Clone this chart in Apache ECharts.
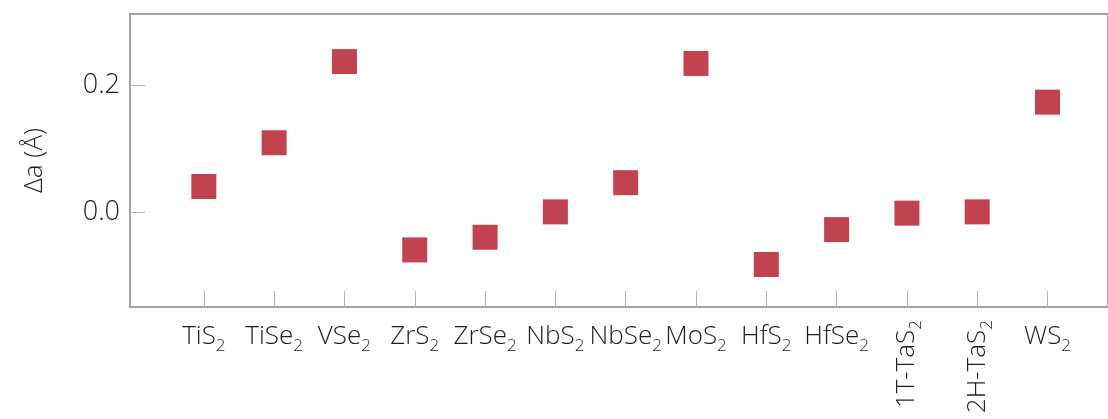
<!DOCTYPE html>
<html>
<head>
<meta charset="utf-8">
<script src="https://cdn.jsdelivr.net/npm/echarts@6/dist/echarts.min.js"></script>
<style>html,body{margin:0;padding:0;background:#fff}#c{width:1108px;height:419px}</style>
</head>
<body>
<div id="c"></div>
<script>
// Data
const categories = ['TiS2','TiSe2','VSe2','ZrS2','ZrSe2','NbS2','NbSe2','MoS2','HfS2','HfSe2','1T-TaS2','2H-TaS2','WS2'];
const deltaA = [0.040, 0.109, 0.237, -0.060, -0.040, 0.000, 0.046, 0.234, -0.083, -0.028, -0.002, 0.000, 0.173];
const yTicks = [0.0, 0.2];
const yAxisName = 'Δa (Å)';
const verticalLabels = ['1T-TaS2', '2H-TaS2'];

const idx = categories.map((_, i) => i);
const horizIdx = idx.filter(i => verticalLabels.indexOf(categories[i]) < 0);
const vertIdx = idx.filter(i => verticalLabels.indexOf(categories[i]) >= 0);

function fmtLabel(v) {
  const name = categories[Math.round(v)];
  if (name === undefined) return '';
  return name.replace(/(\d)$/, '{s|$1}');
}

const FONT = '"Open Sans", "DejaVu Sans", sans-serif';
const TXT = '#1e1e1e';
const richSub = { s: { fontSize: 17, fontFamily: FONT, fontWeight: 300, color: TXT, padding: [19, 0, 0, 0] } };
const xMin = -1.05, xMax = 12.86;

const chart = echarts.init(document.getElementById('c'), null, { renderer: 'canvas' });
chart.setOption({
  animation: false,
  backgroundColor: '#fff',
  grid: {
    left: 130, top: 14, right: -4, bottom: 112,
    show: true, borderColor: '#a3a3a3', borderWidth: 2, backgroundColor: 'transparent'
  },
  xAxis: [
    {
      type: 'value', min: xMin, max: xMax, position: 'bottom',
      axisLine: { show: false, onZero: false },
      splitLine: { show: false },
      axisTick: { show: true, inside: true, length: 16, customValues: idx, lineStyle: { color: '#b3b3b3', width: 1 } },
      axisLabel: {
        customValues: horizIdx, margin: 12, fontSize: 26, fontWeight: 300, fontFamily: FONT, color: TXT,
        formatter: fmtLabel, rich: richSub
      }
    },
    {
      type: 'value', min: xMin, max: xMax, position: 'bottom',
      axisLine: { show: false, onZero: false },
      splitLine: { show: false },
      axisTick: { show: false },
      axisLabel: {
        customValues: vertIdx, rotate: 90, margin: 13, fontSize: 26, fontWeight: 300, fontFamily: FONT, color: TXT,
        formatter: fmtLabel, rich: richSub
      }
    }
  ],
  yAxis: {
    type: 'value', min: -0.15, max: 0.312,
    name: yAxisName, nameLocation: 'middle', nameGap: 82, nameRotate: 90,
    nameTextStyle: { fontSize: 26, fontWeight: 300, fontFamily: FONT, color: TXT },
    axisLine: { show: false, onZero: false },
    splitLine: { show: false },
    axisTick: { show: true, inside: true, length: 15, customValues: yTicks, lineStyle: { color: '#b3b3b3', width: 1 } },
    axisLabel: {
      customValues: yTicks, margin: 10, fontSize: 27, fontWeight: 300, fontFamily: FONT, color: TXT,
      formatter: v => v.toFixed(1)
    }
  },
  series: [{
    type: 'scatter',
    xAxisIndex: 0,
    symbol: 'rect',
    symbolSize: 25,
    itemStyle: { color: '#c0434f', opacity: 1 },
    data: deltaA.map((v, i) => [i, v])
  }]
});
</script>
</body>
</html>
